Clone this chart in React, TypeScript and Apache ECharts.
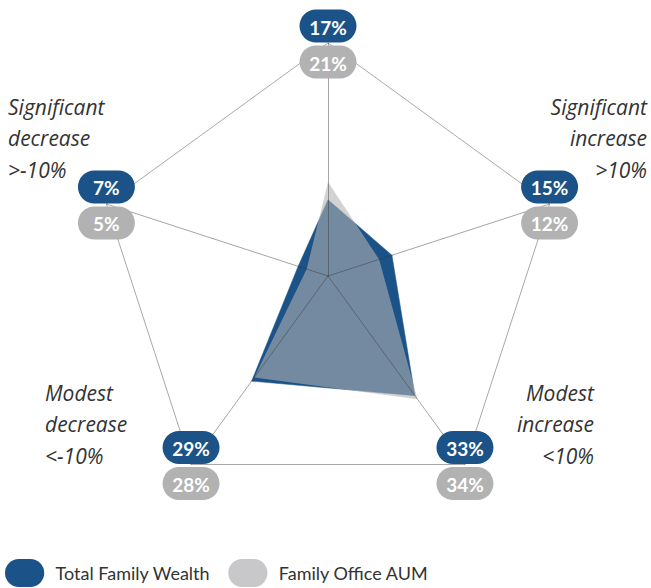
import React, { useEffect, useRef } from 'react';
import * as echarts from 'echarts';

// ---- data ----
const indicatorNames = [
  'No change',
  'Significant decrease >-10%',
  'Modest decrease <-10%',
  'Modest increase <10%',
  'Significant increase >10%',
];
const categoryLabels = [
  '',
  'Significant\ndecrease\n>-10%',
  'Modest\ndecrease\n<-10%',
  'Modest\nincrease\n<10%',
  'Significant\nincrease\n>10%',
];
const totalFamilyWealth = [17, 7, 29, 33, 15];
const familyOfficeAUM = [21, 5, 28, 34, 12];
const seriesNames = ['Total Family Wealth', 'Family Office AUM'];
const axisMax = 52;

const BLUE = '#1b5287';
const GRAY = '#b2b2b2';
const LEGEND_GRAY = '#c8c8ca';
const CX = 328;
const CY = 276;
const R = 233;

const PILL = 'path://M15,0 H27 A15,15 0 0 1 27,30 H15 A15,15 0 0 1 15,0 Z';

// label layout (x, top, align) per indicator
const labelLayout: Array<[number, number, 'left' | 'right']> = [
  [0, 0, 'left'],
  [8, 91, 'left'],
  [45, 377, 'left'],
  [594, 377, 'right'],
  [647, 91, 'right'],
];

export default function App() {
  const ref = useRef<HTMLDivElement>(null);

  useEffect(() => {
    if (!ref.current) return;
    const chart = echarts.init(ref.current, null, { renderer: 'svg' });

    const graphics: any[] = [];
    const badgeW = 57;
    const badgeH = 33;
    const pillFont = { fontFamily: 'Lato', fontSize: 19, fontWeight: 'bold' };
    indicatorNames.forEach((_, i) => {
      const a = ((90 + 72 * i) * Math.PI) / 180;
      const vx = CX + R * Math.cos(a);
      const vy = CY - R * Math.sin(a);
      const badges: Array<[number, number, string]> = [
        [vy - 17, totalFamilyWealth[i], BLUE],
        [vy + 19, familyOfficeAUM[i], GRAY],
      ] as any;
      badges.forEach(([cy, v, col]) => {
        graphics.push({
          type: 'rect',
          z: 100,
          shape: { x: vx - badgeW / 2, y: cy - badgeH / 2, width: badgeW, height: badgeH, r: badgeH / 2 },
          style: { fill: col },
        });
        graphics.push({
          type: 'text',
          z: 101,
          style: {
            text: `${v}%`,
            x: vx,
            y: cy + 1,
            textAlign: 'center',
            verticalAlign: 'middle',
            textVerticalAlign: 'middle',
            fill: '#ffffff',
            ...pillFont,
          },
        });
      });
      if (categoryLabels[i]) {
        const [lx, ly, al] = labelLayout[i];
        graphics.push({
          type: 'text',
          z: 100,
          style: {
            text: categoryLabels[i],
            x: lx,
            y: ly,
            textAlign: al,
            verticalAlign: 'top',
            textVerticalAlign: 'top',
            fill: '#333333',
            fontFamily: 'Open Sans',
            fontStyle: 'italic',
            fontWeight: 'normal',
            fontSize: 21,
            lineHeight: 31.5,
          },
        });
      }
    });

    chart.setOption({
      animation: false,
      legend: {
        left: 5,
        top: 559,
        padding: 0,
        itemWidth: 42,
        itemHeight: 28,
        itemGap: 18,
        selectedMode: false,
        textStyle: { fontFamily: 'Lato', fontSize: 18, color: '#333', padding: [0, 0, 0, 5] },
        data: [
          { name: seriesNames[0], icon: PILL, itemStyle: { color: BLUE, opacity: 1 } },
          { name: seriesNames[1], icon: PILL, itemStyle: { color: LEGEND_GRAY, opacity: 1 } },
        ],
      },
      radar: {
        center: [CX, CY],
        radius: R,
        startAngle: 90,
        splitNumber: 1,
        shape: 'polygon',
        z: 3,
        indicator: indicatorNames.map((n) => ({ name: n, max: axisMax, min: 0 })),
        axisName: { show: false },
        axisLine: { lineStyle: { color: 'rgba(55,55,55,0.45)', width: 1 } },
        splitLine: { lineStyle: { color: '#a9a9a9', width: 1 } },
        splitArea: { show: false },
        axisTick: { show: false },
        axisLabel: { show: false },
      },
      series: [
        {
          type: 'radar',
          z: 2,
          symbol: 'none',
          data: [
            {
              name: seriesNames[0],
              value: totalFamilyWealth,
              areaStyle: { color: BLUE, opacity: 1 },
              lineStyle: { width: 0.5, color: BLUE },
              itemStyle: { color: BLUE },
            },
            {
              name: seriesNames[1],
              value: familyOfficeAUM,
              areaStyle: { color: 'rgb(178,178,178)', opacity: 0.59 },
              lineStyle: { width: 0, opacity: 0 },
              itemStyle: { color: LEGEND_GRAY },
            },
          ],
        },
      ],
      graphic: graphics,
    });

    return () => chart.dispose();
  }, []);

  return (
    <div
      ref={ref}
      style={{ position: 'fixed', left: 0, top: 0, width: 651, height: 588, background: '#fff' }}
    />
  );
}
